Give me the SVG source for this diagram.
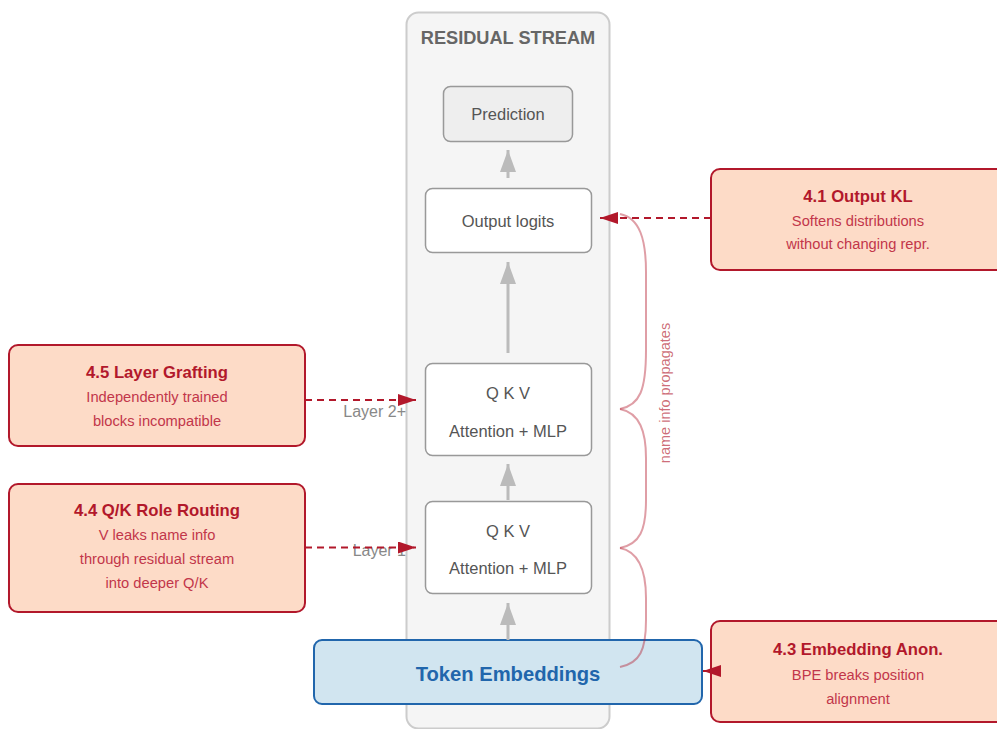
<svg xmlns="http://www.w3.org/2000/svg" width="997" height="729" viewBox="0 0 997 729">
<style>
text{font-family:"Liberation Sans",Arial,sans-serif}
.stream{fill:#f5f5f5;stroke:#cccccc;stroke-width:2}
.title{font-size:18.2px;font-weight:bold;fill:#666666;text-anchor:middle}
.blk{fill:#ffffff;stroke:#999999;stroke-width:1.5}
.pred{fill:#eeeeee;stroke:#999999;stroke-width:1.5}
.bt{font-size:16.5px;fill:#555555;text-anchor:middle}
.emb{fill:#d1e5f0;stroke:#2166ac;stroke-width:2}
.embt{font-size:20.2px;font-weight:bold;fill:#2166ac;text-anchor:middle}
.ann{fill:#fddbc7;stroke:#b2182b;stroke-width:2}
.at{font-size:16.7px;font-weight:bold;fill:#b2182b;text-anchor:middle}
.as{font-size:14.7px;fill:#c2364a;text-anchor:middle}
.lay{font-size:16px;fill:#888888;text-anchor:end}
.garrow{stroke:#bbbbbb;stroke-width:3;fill:none}
.rarrow{stroke:#b2182b;stroke-width:2;fill:none;stroke-dasharray:7,5}
.brace{stroke:#b2182b;stroke-opacity:0.42;stroke-width:2;fill:none}
.prop{font-size:14.5px;fill:#b2182b;fill-opacity:0.65;text-anchor:middle}
</style>
<defs>
<marker id="gh" markerUnits="userSpaceOnUse" markerWidth="22" markerHeight="16" refX="22" refY="8" orient="auto"><path d="M0,0 L22,8 L0,16 z" fill="#bbbbbb"/></marker>
<marker id="rh" markerUnits="userSpaceOnUse" markerWidth="18" markerHeight="12" refX="18" refY="6" orient="auto"><path d="M0,0 L18,6 L0,12 z" fill="#b2182b"/></marker>
</defs>

<g id="residual-stream">
<rect class="stream" x="406.5" y="12.5" width="203" height="716" rx="12"/>
<text class="title" x="508" y="44">RESIDUAL STREAM</text>
</g>

<g id="layer-labels">
<text class="lay" x="406" y="417">Layer 2+</text>
<text class="lay" x="406" y="556">Layer 1</text>
</g>

<g id="prediction">
<rect class="pred" x="443.5" y="86.5" width="129" height="55" rx="7"/>
<text class="bt" x="508" y="120">Prediction</text>
</g>

<g id="output-logits">
<rect class="blk" x="425.5" y="188.5" width="166" height="64" rx="7"/>
<text class="bt" x="508" y="227">Output logits</text>
</g>

<g id="layer2">
<rect class="blk" x="425.5" y="363.5" width="166" height="92" rx="7"/>
<text class="bt" x="508" y="399">Q K V</text>
<text class="bt" x="508" y="437">Attention + MLP</text>
</g>

<g id="layer1">
<rect class="blk" x="425.5" y="501.5" width="166" height="92" rx="7"/>
<text class="bt" x="508" y="537">Q K V</text>
<text class="bt" x="508" y="574">Attention + MLP</text>
</g>

<g id="token-embeddings">
<rect class="emb" x="314" y="640" width="388" height="64" rx="8"/>
<text class="embt" x="508" y="681">Token Embeddings</text>
</g>

<g id="ann-41">
<rect class="ann" x="711" y="169" width="300" height="101" rx="9"/>
<text class="at" x="858" y="202">4.1 Output KL</text>
<text class="as" x="858" y="226">Softens distributions</text>
<text class="as" x="858" y="249">without changing repr.</text>
</g>

<g id="ann-43">
<rect class="ann" x="711" y="621" width="300" height="101" rx="9"/>
<text class="at" x="858" y="655">4.3 Embedding Anon.</text>
<text class="as" x="858" y="680">BPE breaks position</text>
<text class="as" x="858" y="704">alignment</text>
</g>

<g id="ann-45">
<rect class="ann" x="9" y="345" width="296" height="101" rx="9"/>
<text class="at" x="157" y="378">4.5 Layer Grafting</text>
<text class="as" x="157" y="402">Independently trained</text>
<text class="as" x="157" y="426">blocks incompatible</text>
</g>

<g id="ann-44">
<rect class="ann" x="9" y="484" width="296" height="128" rx="9"/>
<text class="at" x="157" y="516">4.4 Q/K Role Routing</text>
<text class="as" x="157" y="540">V leaks name info</text>
<text class="as" x="157" y="564">through residual stream</text>
<text class="as" x="157" y="588">into deeper Q/K</text>
</g>

<g id="connectors">
<line class="garrow" x1="508" y1="178" x2="508" y2="150" marker-end="url(#gh)"/>
<line class="garrow" x1="508" y1="353" x2="508" y2="262" marker-end="url(#gh)"/>
<line class="garrow" x1="508" y1="500" x2="508" y2="464" marker-end="url(#gh)"/>
<line class="garrow" x1="508" y1="640" x2="508" y2="603" marker-end="url(#gh)"/>
<line class="rarrow" x1="711" y1="218" x2="600" y2="218" marker-end="url(#rh)"/>
<line class="rarrow" x1="305" y1="400" x2="416" y2="400" marker-end="url(#rh)"/>
<line class="rarrow" x1="305" y1="547.5" x2="416" y2="547.5" marker-end="url(#rh)"/>
<line stroke="#b2182b" stroke-width="2" x1="711" y1="671" x2="703" y2="671" marker-end="url(#rh)"/>
<path class="brace" d="M620,214 C640,218 646,240 646,272 L646,350 C646,390 640,405 620,409"/>
<path class="brace" d="M620,409 C640,413 646,432 646,458 L646,500 C646,530 640,544 620,548"/>
<path class="brace" d="M620,548 C640,552 646,572 646,598 L646,620 C646,650 640,663 620,667"/>
<text class="prop" transform="translate(670,393) rotate(-90)">name info propagates</text>
</g>
</svg>
